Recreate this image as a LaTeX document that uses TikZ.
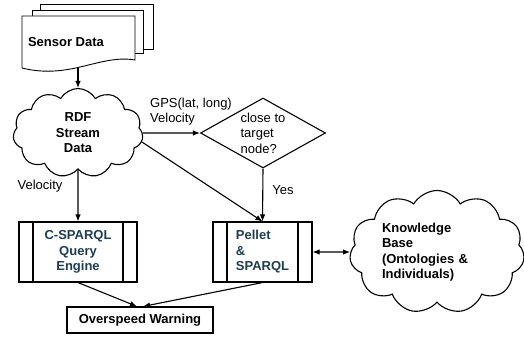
\documentclass[tikz,border=0pt]{standalone}
\usepackage{fontspec}
\setmainfont{Liberation Sans}
\usetikzlibrary{arrows.meta, positioning, shapes.geometric, shapes.symbols}
\definecolor{engTeal}{RGB}{30,62,78}
\newcommand{\diagfont}{\fontsize{13}{15.5}\selectfont}

\tikzset{
  flow/.style={line width=1.1pt, -{Latex[length=7pt, width=5.5pt]}},
  cloudy/.style={cloud, cloud puffs=11, cloud puff arc=120, cloud ignores aspect,
    draw, line width=1.1pt, inner sep=0pt, font=\diagfont\bfseries},
  procbox/.style={draw, line width=1.1pt, minimum width=#1, minimum height=60pt,
    inner sep=0pt, font=\diagfont\bfseries, text=engTeal,
    path picture={
      \draw[line width=1.1pt]
        ([xshift=14pt]path picture bounding box.north west) -- ([xshift=14pt]path picture bounding box.south west)
        ([xshift=-14pt]path picture bounding box.north east) -- ([xshift=-14pt]path picture bounding box.south east);
    }},
}

\begin{document}
\begin{tikzpicture}[x=1pt, y=-1pt, font=\diagfont]
  \useasboundingbox (0,0) rectangle (524,339);

  % stacked sensor documents
  \draw[line width=0.9pt, fill=white] (40,4) rectangle (153,49);
  \draw[line width=0.9pt, fill=white] (32,10) rectangle (143,53);
  \draw[line width=0.9pt, fill=white] (22,16) -- (135,16) -- (135,60)
    .. controls (100,54) and (70,80) .. (22,68) -- cycle;
  \node[font=\diagfont\bfseries] (sensor) at (66,42) {Sensor Data};
  \coordinate (sensor-foot) at (78,67);

  % stream cloud and decision
  \node[cloudy, minimum width=130pt, minimum height=89pt, align=center] (rdf) at (78,133) {RDF\\Stream\\Data};
  \node[draw, diamond, aspect=1.79, minimum width=125pt, minimum height=70pt, inner sep=0pt,
    line width=1.1pt, align=left] (close) at (263,133) {close to\\target\\node?};

  % engines
  \node[procbox=118pt, align=center] (cspq) at (78,252) {C-SPARQL\\Query\\Engine};
  \node[procbox=99pt, align=left] (pellet) at (262.5,252) {Pellet\\\&\\SPARQL};
  \node[draw, line width=1.1pt, minimum width=146pt, minimum height=26pt, font=\diagfont\bfseries] (warn) at (140,320) {Overspeed Warning};

  % knowledge base
  \node[cloudy, minimum width=175pt, minimum height=123pt, text width=110pt, align=left] (kb) at (437,252)
    {Knowledge\\Base\\(Ontologies \&\\Individuals)};

  % edge labels
  \node[align=left] (gps) at (191,111.5) {GPS(lat, long)\\Velocity};
  \node (vel) at (40,186) {Velocity};
  \node (yes) at (283,190) {Yes};

  % connectors
  \draw[flow] (sensor-foot) -- (rdf.north);
  \draw[flow] (rdf.east) -- (close.west);
  \draw[flow] (rdf.-8) -- (pellet.north);
  \draw[flow] (close.south) -- (pellet.north);
  \draw[flow] (rdf.south) -- (cspq.north);
  \draw[flow] (cspq.south) -- ([xshift=-3pt]warn.north);
  \draw[flow] (pellet.south) -- ([xshift=3pt]warn.north);
  \draw[line width=1.1pt, {Latex[length=7pt, width=5.5pt]}-{Latex[length=7pt, width=5.5pt]}] (pellet.east) -- (kb.west);
\end{tikzpicture}
\end{document}
